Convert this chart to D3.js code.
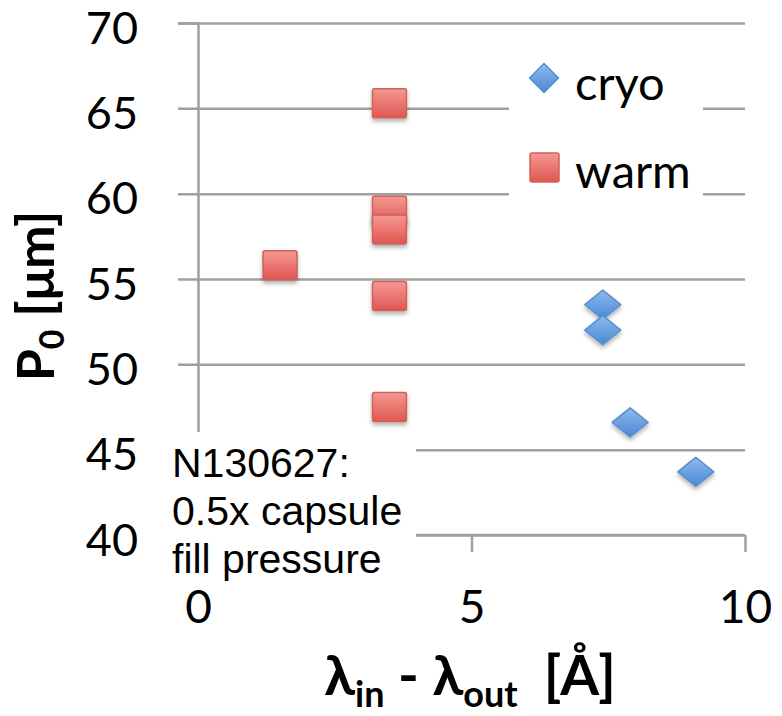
<!DOCTYPE html>
<html>
<head>
<meta charset="utf-8">
<script src="https://cdn.jsdelivr.net/npm/d3@7"></script>
<style>
  html, body { margin: 0; padding: 0; background: #fff; }
  svg { display: block; }
</style>
</head>
<body>
<svg id="chart" width="782" height="716"></svg>
<script>
// Series: wavelength shift vs. P0
const cryoX = [7.4, 7.4, 7.9, 9.1];
const cryoY = [53.5, 52.0, 46.6, 43.7];
const warmX = [3.5, 3.5, 3.5, 1.5, 3.5, 3.5];
const warmY = [65.3, 59.0, 57.9, 55.8, 54.0, 47.5];

const xTicks = [0, 5, 10];
const yTicks = [40, 45, 50, 55, 60, 65, 70];
const seriesNames = ["cryo", "warm"];
const noteLines = ["N130627:", "0.5x capsule", "fill pressure"];

const svg = d3.select("#chart");
const font = "Lato, 'Open Sans', 'DejaVu Sans', sans-serif";
const grid = "#a0a0a0";

const x = d3.scaleLinear().domain([0, 10]).range([198, 745]);
const y = d3.scaleLinear().domain([40, 70]).range([535, 23]);

// gradients and shadow
const defs = svg.append("defs");
const gRed = defs.append("linearGradient").attr("id", "gRed").attr("x1", 0).attr("y1", 0).attr("x2", 0).attr("y2", 1);
gRed.append("stop").attr("offset", "0%").attr("stop-color", "#f49893");
gRed.append("stop").attr("offset", "100%").attr("stop-color", "#e05650");
const gBlue = defs.append("linearGradient").attr("id", "gBlue").attr("x1", 0).attr("y1", 0).attr("x2", 0).attr("y2", 1);
gBlue.append("stop").attr("offset", "0%").attr("stop-color", "#8dbbee");
gBlue.append("stop").attr("offset", "100%").attr("stop-color", "#4a88d4");
const sh = defs.append("filter").attr("id", "shadow").attr("x", "-50%").attr("y", "-50%").attr("width", "200%").attr("height", "200%");
sh.append("feDropShadow").attr("dx", 0).attr("dy", 3).attr("stdDeviation", 2)
  .attr("flood-color", "#000").attr("flood-opacity", 0.3);

// horizontal gridlines (also the y-axis ticks, extending left of the axis)
const yAxis = d3.axisLeft(y).tickValues(yTicks).tickSize(20).tickPadding(40).tickFormat(d3.format("d"));
const yG = svg.append("g").attr("transform", `translate(${x(0)},0)`).call(yAxis);
yG.select(".domain").attr("stroke", grid).attr("stroke-width", 2.5);
yG.selectAll(".tick line").attr("stroke", grid).attr("stroke-width", 2.5)
  .attr("x2", -20).attr("x1", x(10) - x(0));
yG.selectAll(".tick text").attr("font-family", font).attr("font-size", 45)
  .attr("fill", "#000").attr("dy", "0.45em");

// x axis
const xAxis = d3.axisBottom(x).tickValues(xTicks).tickSize(17).tickPadding(38).tickFormat(d3.format("d"));
const xG = svg.append("g").attr("transform", `translate(0,${y(40)})`).call(xAxis);
xG.select(".domain").attr("stroke", grid).attr("stroke-width", 2.5)
  .attr("d", `M${x(0)},0H${x(10)}`);
xG.selectAll(".tick line").attr("stroke", grid).attr("stroke-width", 2.5);
xG.selectAll(".tick text").attr("font-family", font).attr("font-size", 46).attr("fill", "#000");

// markers
const cryo = cryoX.map((v, i) => ({ x: v, y: cryoY[i] }));
const warm = warmX.map((v, i) => ({ x: v, y: warmY[i] }));

const diamond = (cx, cy, w, h) => `M${cx},${cy - h / 2}L${cx + w / 2},${cy}L${cx},${cy + h / 2}L${cx - w / 2},${cy}Z`;

svg.append("g").selectAll("path").data(cryo).join("path")
  .attr("d", d => diamond(x(d.x), y(d.y), 36, 29))
  .attr("fill", "url(#gBlue)").attr("stroke", "#5a8fcf").attr("stroke-width", 1.5)
  .attr("stroke-linejoin", "round").attr("filter", "url(#shadow)");

svg.append("g").selectAll("rect").data(warm).join("rect")
  .attr("x", d => x(d.x) - 17).attr("y", d => y(d.y) - 14.5)
  .attr("width", 34).attr("height", 29).attr("rx", 2)
  .attr("fill", "url(#gRed)").attr("stroke", "#d0605b").attr("stroke-width", 1.5)
  .attr("filter", "url(#shadow)");

// legend
const lg = svg.append("g");
lg.append("rect").attr("x", 509).attr("y", 45).attr("width", 194).attr("height", 170).attr("fill", "#fff");
lg.append("path").attr("d", diamond(544, 78, 29, 29))
  .attr("fill", "url(#gBlue)").attr("stroke", "#5a8fcf").attr("stroke-width", 1.5);
lg.append("rect").attr("x", 530).attr("y", 153).attr("width", 29).attr("height", 29).attr("rx", 2)
  .attr("fill", "url(#gRed)").attr("stroke", "#d0605b").attr("stroke-width", 1.5);
lg.selectAll("text").data(seriesNames).join("text")
  .attr("x", 575).attr("y", (d, i) => 100 + i * 88)
  .attr("font-family", font).attr("font-size", 47).attr("fill", "#000")
  .text(d => d);

// note box
const note = svg.append("g");
note.append("rect").attr("x", 160).attr("y", 432).attr("width", 256).attr("height", 154).attr("fill", "#fff");
note.selectAll("text").data(noteLines).join("text")
  .attr("x", 172).attr("y", (d, i) => 477 + i * 48)
  .attr("font-family", "'Liberation Sans', Arial, sans-serif").attr("font-size", 41)
  .attr("fill", "#000").text(d => d);

// axis titles
const xt = svg.append("text").attr("x", 470).attr("y", 695).attr("text-anchor", "middle")
  .attr("font-family", font).attr("font-size", 56).attr("font-weight", "bold").attr("fill", "#000");
xt.append("tspan").text("λ");
xt.append("tspan").attr("font-size", 36).attr("dy", 12).text("in");
xt.append("tspan").attr("dy", -12).text(" - λ");
xt.append("tspan").attr("font-size", 36).attr("dy", 12).text("out");
xt.append("tspan").attr("dy", -12).attr("dx", 26).text("[Å]");

const yt = svg.append("text").attr("transform", "translate(54,296) rotate(-90)").attr("text-anchor", "middle")
  .attr("font-family", font).attr("font-size", 52).attr("font-weight", "bold").attr("fill", "#000");
yt.append("tspan").text("P");
yt.append("tspan").attr("font-size", 34).attr("dy", 10).text("0");
yt.append("tspan").attr("dy", -10).text("  [μm]");
</script>
</body>
</html>
